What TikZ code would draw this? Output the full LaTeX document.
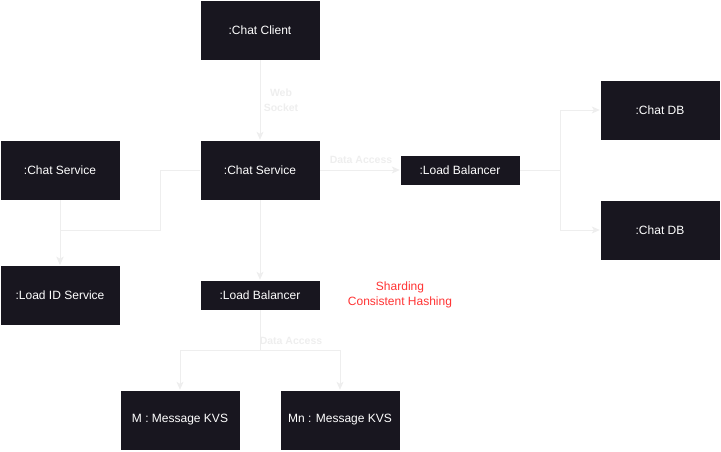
\documentclass[tikz,border=0pt]{standalone}
\usepackage{fontspec}
\setmainfont{Liberation Sans}
\usepackage{xcolor}
\usepackage{tikz}
\usetikzlibrary{positioning}
\usetikzlibrary{arrows.meta}
\definecolor{boxfill}{HTML}{18161F}
\definecolor{linegray}{HTML}{EEEEEE}
\definecolor{notered}{HTML}{FF3333}

\begin{document}
\begin{tikzpicture}
  [ x=1pt, y=-1pt,
    cell/.style={fill=boxfill, draw=white, text=white, inner sep=0pt,
      minimum width=120pt, minimum height=60pt,
      font=\fontsize{12}{14}\selectfont},
    lbcell/.style={cell, minimum height=30pt},
    conn/.style={draw=linegray, line width=1pt,
      -{Stealth[length=8pt,width=7pt,inset=2pt]}},
    lbl/.style={text=linegray, font=\bfseries\fontsize{10.5}{15}\selectfont,
      align=center, inner sep=0pt}
  ]
  \useasboundingbox (0,0) rectangle (721,451);

  \node (client) at (260,30)  [cell]   {:Chat Client};
  \node (svc)    at (260,170) [cell]   {:Chat Service};
  \node (svcL)   at (60,170)  [cell]   {:Chat Service};
  \node (idsvc)  at (60,295)  [cell]   {:Load ID Service};
  \node (lbR)    at (460,170) [lbcell] {:Load Balancer};
  \node (lbB)    at (260,295) [lbcell] {:Load Balancer};
  \node (db1)    at (660,110) [cell]   {:Chat DB};
  \node (db2)    at (660,230) [cell]   {:Chat DB};
  \node (kvs1)   at (180,420) [cell]   {M : Message KVS};
  \node (kvs2)   at (340,420) [cell]   {Mn : Message KVS};

  \node (shard) at (400,295) [align=center, text=notered, inner sep=0pt,
    font=\fontsize{12}{15}\selectfont] {Sharding\\Consistent Hashing};

  \draw [conn] (client) -- (svc);
  \node (ws) at (281,100) [lbl] {Web\\Socket};

  \draw [conn] (svc) -- (lbR);
  \node (da1) at (361,160) [lbl] {Data Access};

  \draw [conn] (lbR.east) -- ++(40,0) |- (db1.west);
  \draw [conn] (lbR.east) -- ++(40,0) |- (db2.west);

  \draw [conn] (svcL) -- (idsvc);
  \draw [conn] (svc.west) -| (160,230) -| (idsvc.north);

  \draw [conn] (svc) -- (lbB);

  \draw [conn] (lbB.south) -- ++(0,40) -| (kvs1.north);
  \draw [conn] (lbB.south) -- ++(0,40) -| (kvs2.north);
  \node (da2) at (291,341) [lbl] {Data Access};
\end{tikzpicture}
\end{document}
